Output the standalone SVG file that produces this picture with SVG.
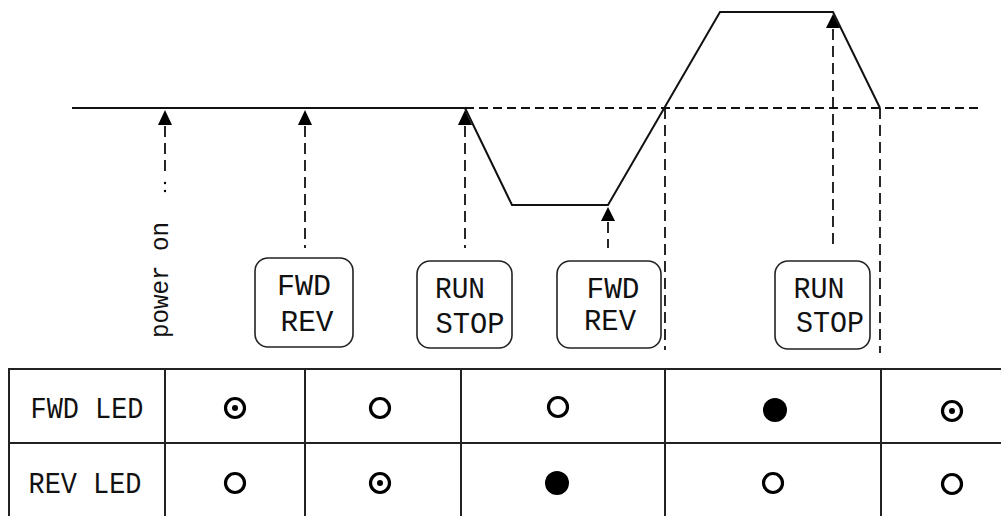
<svg xmlns="http://www.w3.org/2000/svg" width="1001" height="516" viewBox="0 0 1001 516">
<style>
.wave{fill:none;stroke:#111;stroke-width:2}
.dh{fill:none;stroke:#111;stroke-width:1.8;stroke-dasharray:9 5}
.dv{fill:none;stroke:#111;stroke-width:1.8;stroke-dasharray:11 6}
.arr{fill:#000}
.box{fill:#fff;stroke:#222;stroke-width:1.6}
.grid{stroke:#222;stroke-width:2;fill:none}
.t{font-family:"Liberation Mono","DejaVu Sans Mono",monospace;font-size:29px;fill:#111;text-anchor:middle}
.o{fill:none;stroke:#000;stroke-width:3.2}
.f{fill:#000}
</style>
<rect width="1001" height="516" fill="#fff"/>
<g id="connectors">
  <line class="wave" x1="72" y1="108" x2="465" y2="108"/>
  <line class="dh" x1="465" y1="108" x2="980" y2="108"/>
  <polyline class="wave" points="465,108 512,205 608,205 720,12 833,12 880,108"/>
  <line class="dv" x1="165" y1="126" x2="165" y2="176"/>
  <circle class="f" cx="165" cy="183" r="1.2"/>
  <circle class="f" cx="165" cy="191" r="1.2"/>
  <line class="dv" x1="305" y1="126" x2="305" y2="248"/>
  <line class="dv" x1="465" y1="126" x2="465" y2="248"/>
  <line class="dv" x1="608" y1="222" x2="608" y2="248"/>
  <line class="dv" x1="833" y1="29" x2="833" y2="248"/>
  <line class="dv" x1="665" y1="108" x2="665" y2="350"/>
  <line class="dv" x1="880" y1="108" x2="880" y2="353"/>
  <polygon class="arr" points="165,110 158,125 172,125"/>
  <polygon class="arr" points="305,110 298,125 312,125"/>
  <polygon class="arr" points="465,110 458,125 472,125"/>
  <polygon class="arr" points="608,207 601,221 615,221"/>
  <polygon class="arr" points="833,14 826,28 840,28"/>
</g>
<g id="power-on">
  <text class="t" transform="translate(168,280) rotate(-90)" style="font-size:26px" textLength="116" lengthAdjust="spacingAndGlyphs">power on</text>
</g>
<g id="btn-fwdrev-1">
  <rect class="box" x="255" y="258" width="98" height="89" rx="13"/>
  <text class="t" x="304" y="295" textLength="54" lengthAdjust="spacingAndGlyphs">FWD</text>
  <text class="t" x="307" y="331" textLength="53" lengthAdjust="spacingAndGlyphs">REV</text>
</g>
<g id="btn-runstop-1">
  <rect class="box" x="417" y="261" width="95" height="87" rx="13"/>
  <text class="t" x="460" y="298" textLength="50" lengthAdjust="spacingAndGlyphs">RUN</text>
  <text class="t" x="470" y="333" textLength="69" lengthAdjust="spacingAndGlyphs">STOP</text>
</g>
<g id="btn-fwdrev-2">
  <rect class="box" x="557" y="261" width="104" height="87" rx="13"/>
  <text class="t" x="613" y="298" textLength="53" lengthAdjust="spacingAndGlyphs">FWD</text>
  <text class="t" x="610" y="330" textLength="52" lengthAdjust="spacingAndGlyphs">REV</text>
</g>
<g id="btn-runstop-2">
  <rect class="box" x="775" y="261" width="95" height="88" rx="13"/>
  <text class="t" x="819" y="298" textLength="51" lengthAdjust="spacingAndGlyphs">RUN</text>
  <text class="t" x="830" y="332" textLength="68" lengthAdjust="spacingAndGlyphs">STOP</text>
</g>
<g id="table">
  <line class="grid" x1="8" y1="369" x2="1001" y2="369"/>
  <line class="grid" x1="8" y1="443" x2="1001" y2="443"/>
  <line class="grid" x1="9" y1="368" x2="9" y2="516"/>
  <line class="grid" x1="165" y1="368" x2="165" y2="516"/>
  <line class="grid" x1="305" y1="368" x2="305" y2="516"/>
  <line class="grid" x1="461" y1="368" x2="461" y2="516"/>
  <line class="grid" x1="665" y1="368" x2="665" y2="516"/>
  <line class="grid" x1="881" y1="368" x2="881" y2="516"/>
  <text class="t" x="87" y="418" textLength="113" lengthAdjust="spacingAndGlyphs">FWD LED</text>
  <text class="t" x="85" y="493" textLength="113" lengthAdjust="spacingAndGlyphs">REV LED</text>
</g>
<g id="leds">
  <circle class="o" cx="235" cy="408" r="9.5"/><circle class="f" cx="235" cy="408" r="3"/>
  <circle class="o" cx="235" cy="483" r="9.5"/>
  <circle class="o" cx="380" cy="408" r="9.5"/>
  <circle class="o" cx="380" cy="483" r="9.5"/><circle class="f" cx="380" cy="483" r="3"/>
  <circle class="o" cx="558" cy="407" r="9.5"/>
  <circle class="f" cx="557" cy="483" r="12"/>
  <circle class="f" cx="775" cy="410" r="12"/>
  <circle class="o" cx="773" cy="483" r="9.5"/>
  <circle class="o" cx="952" cy="411" r="9.5"/><circle class="f" cx="952" cy="411" r="3"/>
  <circle class="o" cx="952" cy="484" r="9.5"/>
</g>
</svg>
